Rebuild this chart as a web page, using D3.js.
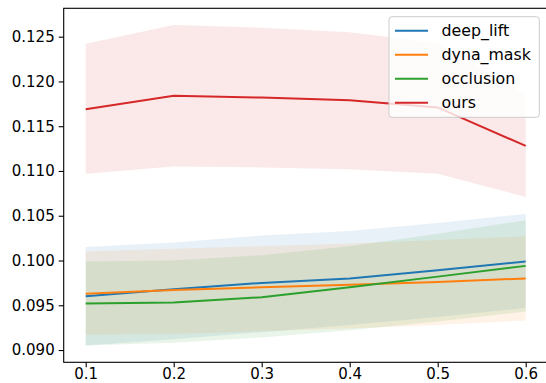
<!DOCTYPE html>
<html lang="en">
<head>
    <script src="https://d3js.org/d3.v7.min.js"></script>
    <style>
        body { margin: 0; background: #fff; }
        text { font-family: "DejaVu Sans", sans-serif; }
    </style>
</head>
<body>
    <svg></svg>
    <script>
        // values
        const xs = [0.1, 0.2, 0.3, 0.4, 0.5, 0.6]
        const names = ['deep_lift', 'dyna_mask', 'occlusion', 'ours']
        const colors = ['#1f77b4', '#ff7f0e', '#2ca02c', '#d62728']

        const deepLift = [0.0960, 0.0968, 0.0975, 0.0980, 0.0989, 0.0999]
        const deepLiftHi = [0.1015, 0.1020, 0.1028, 0.1033, 0.1042, 0.1052]
        const deepLiftLo = [0.0905, 0.0912, 0.0920, 0.0928, 0.0937, 0.0947]

        const dynaMask = [0.0963, 0.0967, 0.0970, 0.0973, 0.0976, 0.0980]
        const dynaMaskHi = [0.1010, 0.1013, 0.1016, 0.1019, 0.1023, 0.1027]
        const dynaMaskLo = [0.0917, 0.0918, 0.0921, 0.0924, 0.0928, 0.0933]

        const occlusion = [0.0952, 0.0953, 0.0959, 0.0970, 0.0982, 0.0994]
        const occlusionHi = [0.0999, 0.1000, 0.1006, 0.1016, 0.1030, 0.1045]
        const occlusionLo = [0.0905, 0.0908, 0.0914, 0.0922, 0.0932, 0.0943]

        const ours = [0.1169, 0.1184, 0.1182, 0.1179, 0.1171, 0.1128]
        const oursHi = [0.1242, 0.1263, 0.1260, 0.1255, 0.1243, 0.1186]
        const oursLo = [0.1097, 0.1105, 0.1104, 0.1102, 0.1097, 0.1071]

        const yTicks = [0.090, 0.095, 0.100, 0.105, 0.110, 0.115, 0.120, 0.125]
        const xTicks = [0.1, 0.2, 0.3, 0.4, 0.5, 0.6]

        const series = [
            {mean: deepLift, hi: deepLiftHi, lo: deepLiftLo},
            {mean: dynaMask, hi: dynaMaskHi, lo: dynaMaskLo},
            {mean: occlusion, hi: occlusionHi, lo: occlusionLo},
            {mean: ours, hi: oursHi, lo: oursLo}
        ]

        const W = 546, H = 383
        const m = {left: 63.7, right: 547.7, top: 8.3, bottom: 362.3}

        const svg = d3.select('svg').attr('width', W).attr('height', H)

        const x = d3.scaleLinear().domain([0.075, 0.625]).range([m.left, m.right])
        const y = d3.scaleLinear().domain([0.08863, 0.12817]).range([m.bottom, m.top])

        const area = d3.area()
            .x((d, i) => x(xs[i]))
            .y0(d => y(d[0]))
            .y1(d => y(d[1]))
        const line = d3.line()
            .x((d, i) => x(xs[i]))
            .y(d => y(d))

        // bands first, then lines (like fill_between drawn per series)
        series.forEach((s, k) => {
            svg.append('path')
                .attr('d', area(s.lo.map((v, i) => [v, s.hi[i]])))
                .attr('fill', colors[k])
                .attr('fill-opacity', 0.1)
        })
        series.forEach((s, k) => {
            svg.append('path')
                .attr('d', line(s.mean))
                .attr('fill', 'none')
                .attr('stroke', colors[k])
                .attr('stroke-width', 2)
        })

        // axes
        const yAxis = svg.append('g')
            .attr('transform', `translate(${m.left},0)`)
            .call(d3.axisLeft(y).tickValues(yTicks).tickFormat(d3.format('.3f')).tickSize(5).tickPadding(4))
        const xAxis = svg.append('g')
            .attr('transform', `translate(0,${m.bottom})`)
            .call(d3.axisBottom(x).tickValues(xTicks).tickFormat(d3.format('.1f')).tickSize(5).tickPadding(1.5))
        for (const g of [yAxis, xAxis]) {
            g.selectAll('text').attr('font-size', 15).attr('fill', '#000')
                .attr('font-family', 'DejaVu Sans')
            g.selectAll('line').attr('stroke', '#000').attr('stroke-width', 1.1)
            g.select('.domain').remove()
        }

        // spines
        svg.append('rect')
            .attr('x', m.left).attr('y', m.top)
            .attr('width', m.right - m.left).attr('height', m.bottom - m.top)
            .attr('fill', 'none')
            .attr('stroke', '#000')
            .attr('stroke-width', 1.1)

        // legend
        const lg = svg.append('g').attr('transform', 'translate(389,16.7)')
        lg.append('rect')
            .attr('width', 150.3).attr('height', 100.6)
            .attr('rx', 3)
            .attr('fill', '#fff').attr('fill-opacity', 0.8)
            .attr('stroke', '#ccc').attr('stroke-width', 1)
        names.forEach((n, k) => {
            const yy = 14 + k * 24
            lg.append('line')
                .attr('x1', 6).attr('x2', 39)
                .attr('y1', yy).attr('y2', yy)
                .attr('stroke', colors[k]).attr('stroke-width', 2)
            lg.append('text')
                .attr('x', 52.5).attr('y', yy + 5.3)
                .attr('font-size', 15.8)
                .text(n)
        })
    </script>
</body>
</html>
